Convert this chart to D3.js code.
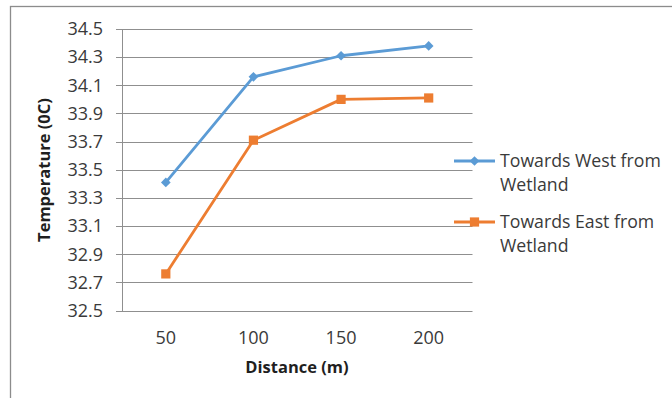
<!DOCTYPE html>
<html>
<head>
<meta charset="utf-8">
<script src="https://cdn.jsdelivr.net/npm/d3@7"></script>
<style>
  html, body { margin: 0; padding: 0; background: #fff; }
  svg { display: block; }
  text { font-family: "Open Sans", "Noto Sans", sans-serif; fill: #3a3a3a; }
</style>
</head>
<body>
<svg id="chart" width="672" height="398"></svg>
<script>
// Temperature measured at increasing distance from the wetland
const distances = ["50", "100", "150", "200"];
const westTemps = [33.41, 34.16, 34.31, 34.38];
const eastTemps = [32.76, 33.71, 34.00, 34.01];
const yTicks = [32.5, 32.7, 32.9, 33.1, 33.3, 33.5, 33.7, 33.9, 34.1, 34.3, 34.5];
const seriesNames = ["Towards West from Wetland", "Towards East from Wetland"];
const seriesColors = ["#5B9BD5", "#ED7D31"];

const svg = d3.select("#chart");
const plot = { left: 122, right: 472.5, top: 29, bottom: 310.5 };

// chart frame
svg.append("rect")
  .attr("x", 10.5).attr("y", 6.5)
  .attr("width", 700).attr("height", 420)
  .attr("fill", "none").attr("stroke", "#8c8c8c").attr("stroke-width", 1.3);

const x = d3.scaleBand().domain(distances).range([plot.left, plot.right]);
const y = d3.scaleLinear().domain([32.5, 34.5]).range([plot.bottom, plot.top]);

// horizontal gridlines
svg.append("g")
  .selectAll("line")
  .data(yTicks)
  .join("line")
  .attr("x1", plot.left - 6).attr("x2", plot.right)
  .attr("y1", d => Math.round(y(d)) + 0.5).attr("y2", d => Math.round(y(d)) + 0.5)
  .attr("stroke", "#8f8f8f").attr("stroke-width", 1);

// y axis line
svg.append("line")
  .attr("x1", plot.left + 0.5).attr("x2", plot.left + 0.5)
  .attr("y1", plot.top).attr("y2", Math.round(plot.bottom) + 0.5)
  .attr("stroke", "#8f8f8f");

// y tick labels
svg.append("g")
  .selectAll("text")
  .data(yTicks)
  .join("text")
  .attr("x", 103).attr("y", d => y(d))
  .attr("dy", "0.35em")
  .attr("text-anchor", "end")
  .style("font-size", "18px")
  .text(d => d.toFixed(1));

// x tick labels
svg.append("g")
  .selectAll("text")
  .data(distances)
  .join("text")
  .attr("x", d => x(d) + x.bandwidth() / 2).attr("y", 338)
  .attr("dy", "0.35em")
  .attr("text-anchor", "middle")
  .style("font-size", "18px")
  .text(d => d);

// axis titles
svg.append("text")
  .attr("x", 297).attr("y", 367)
  .attr("dy", "0.35em")
  .attr("text-anchor", "middle")
  .style("font-size", "16.5px").style("font-weight", "bold").style("fill", "#1f1f1f")
  .text("Distance (m)");

svg.append("text")
  .attr("transform", "translate(44,170) rotate(-90)")
  .attr("dy", "0.35em")
  .attr("text-anchor", "middle")
  .style("font-size", "16.5px").style("font-weight", "bold").style("fill", "#1f1f1f")
  .text("Temperature (0C)");

const series = [westTemps, eastTemps];
const line = d3.line()
  .x((d, i) => x(distances[i]) + x.bandwidth() / 2)
  .y(d => y(d));

const diamond = d3.symbol().type(d3.symbolDiamond2).size(60);
const square = d3.symbol().type(d3.symbolSquare).size(85);
const symbols = [diamond, square];

series.forEach((vals, s) => {
  svg.append("path")
    .datum(vals)
    .attr("d", line)
    .attr("fill", "none")
    .attr("stroke", seriesColors[s])
    .attr("stroke-width", 2.8)
    .attr("stroke-linejoin", "round");

  svg.append("g")
    .selectAll("path")
    .data(vals)
    .join("path")
    .attr("transform", (d, i) => `translate(${x(distances[i]) + x.bandwidth() / 2},${y(d)})`)
    .attr("d", symbols[s])
    .attr("fill", seriesColors[s]);
});

// legend
const legendY = [161, 222];
seriesNames.forEach((name, s) => {
  const g = svg.append("g").attr("transform", `translate(0,${legendY[s]})`);
  g.append("line")
    .attr("x1", 454).attr("x2", 495)
    .attr("y1", 0).attr("y2", 0)
    .attr("stroke", seriesColors[s]).attr("stroke-width", 2.8);
  g.append("path")
    .attr("transform", "translate(474.5,0)")
    .attr("d", symbols[s])
    .attr("fill", seriesColors[s]);
  const words = name.split(" ");
  const lines = [words.slice(0, 3).join(" "), words.slice(3).join(" ")];
  g.append("text")
    .attr("x", 500).attr("y", 0)
    .style("font-size", "17.7px")
    .selectAll("tspan")
    .data(lines)
    .join("tspan")
    .attr("x", 500)
    .attr("dy", (d, i) => i === 0 ? "0.35em" : "24px")
    .text(d => d);
});
</script>
</body>
</html>
